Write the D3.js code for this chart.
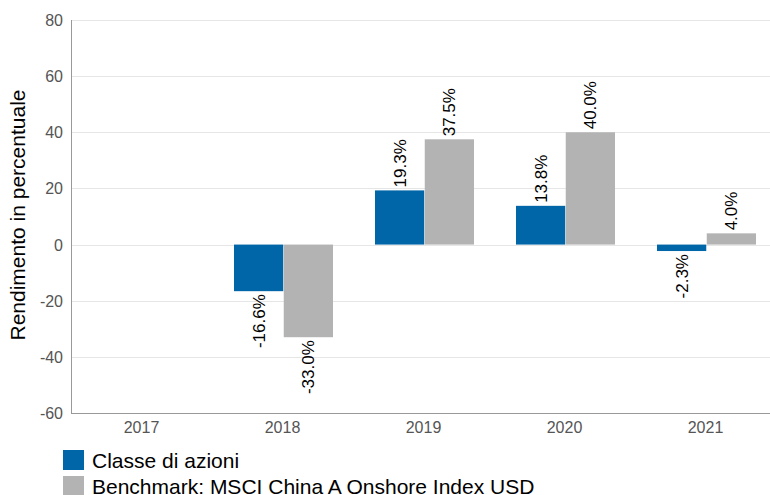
<!DOCTYPE html>
<html>
<head>
<meta charset="utf-8">
<script src="https://cdn.jsdelivr.net/npm/d3@7"></script>
<style>
  body { margin: 0; background: #fff; overflow: hidden; }
  svg { font-family: "Liberation Sans", Arial, sans-serif; display: block; }
</style>
</head>
<body>
<script>
(function(){
    // data
    const years = ["2017", "2018", "2019", "2020", "2021"];
    const seriesNames = ["Classe di azioni", "Benchmark: MSCI China A Onshore Index USD"];
    const classValues = [null, -16.6, 19.3, 13.8, -2.3];
    const benchValues = [null, -33.0, 37.5, 40.0, 4.0];
    const yTicks = [-60, -40, -20, 0, 20, 40, 60, 80];
    const colors = ["#0066a8", "#b3b3b3"];

    const width = 770, height = 495;
    const plotLeft = 71, plotTop = 20, plotBottom = 413;

    const svg = d3.select("body").append("svg")
        .attr("width", width).attr("height", height);

    const x = d3.scaleBand().domain(years)
        .range([plotLeft, plotLeft + 5 * 141]);
    const y = d3.scaleLinear().domain([-60, 80])
        .range([plotBottom, plotTop]);

    // gridlines
    svg.append("g").selectAll("line").data(yTicks.filter(d => d !== -60)).join("line")
        .attr("x1", plotLeft).attr("x2", width)
        .attr("y1", d => Math.round(y(d)) + 0.5).attr("y2", d => Math.round(y(d)) + 0.5)
        .attr("stroke", "#e6e6e6");

    // y tick labels
    svg.append("g").selectAll("text").data(yTicks).join("text")
        .attr("x", 63).attr("y", d => y(d) + 6)
        .attr("text-anchor", "end")
        .attr("font-size", 16).attr("fill", "#555")
        .text(d => d);

    // bars
    const pairW = 99;
    const inner = d3.scaleBand().domain([0, 1])
        .range([0, pairW]).paddingInner(0.01);
    const off = Math.round((x.bandwidth() - pairW) / 2) + 1;
    const rows = [];
    years.forEach((yr, i) => {
        [classValues[i], benchValues[i]].forEach((v, s) => {
            if (v !== null) rows.push({yr, s, v});
        });
    });

    svg.append("g").selectAll("rect").data(rows).join("rect")
        .attr("x", d => x(d.yr) + off + inner(d.s))
        .attr("width", inner.bandwidth())
        .attr("y", d => y(Math.max(0, d.v)))
        .attr("height", d => Math.abs(y(d.v) - y(0)))
        .attr("fill", d => colors[d.s]);

    // value labels, rotated
    svg.append("g").selectAll("text").data(rows).join("text")
        .attr("transform", d => {
            const cx = x(d.yr) + off + inner(d.s) + inner.bandwidth() / 2 + 6;
            const cy = d.v >= 0 ? y(d.v) - 3 : y(d.v) + 3;
            return `translate(${cx},${cy}) rotate(-90)`;
        })
        .attr("text-anchor", d => d.v >= 0 ? "start" : "end")
        .attr("font-size", 17).attr("fill", "#000")
        .text(d => d.v.toFixed(1) + "%");

    // axis lines
    svg.append("line")
        .attr("x1", plotLeft + 0.5).attr("x2", plotLeft + 0.5)
        .attr("y1", plotTop).attr("y2", plotBottom)
        .attr("stroke", "#999");
    svg.append("line")
        .attr("x1", plotLeft).attr("x2", width)
        .attr("y1", plotBottom + 0.5).attr("y2", plotBottom + 0.5)
        .attr("stroke", "#999");

    // x labels
    svg.append("g").selectAll("text").data(years).join("text")
        .attr("x", d => x(d) + x.bandwidth() / 2)
        .attr("y", plotBottom + 20)
        .attr("text-anchor", "middle")
        .attr("font-size", 16).attr("fill", "#555")
        .text(d => d);

    // y title
    svg.append("text")
        .attr("transform", `translate(25,215) rotate(-90)`)
        .attr("text-anchor", "middle")
        .attr("font-size", 21).attr("fill", "#000")
        .text("Rendimento in percentuale");

    // legend
    const leg = svg.append("g").selectAll("g").data(seriesNames).join("g")
        .attr("transform", (d, i) => `translate(63,${450 + i * 26})`);
    leg.append("rect").attr("width", 21).attr("height", 20)
        .attr("fill", (d, i) => colors[i]);
    leg.append("text").attr("x", 29).attr("y", 18)
        .attr("font-size", 21).attr("fill", "#000")
        .text(d => d);
})();
</script>
</body>
</html>
